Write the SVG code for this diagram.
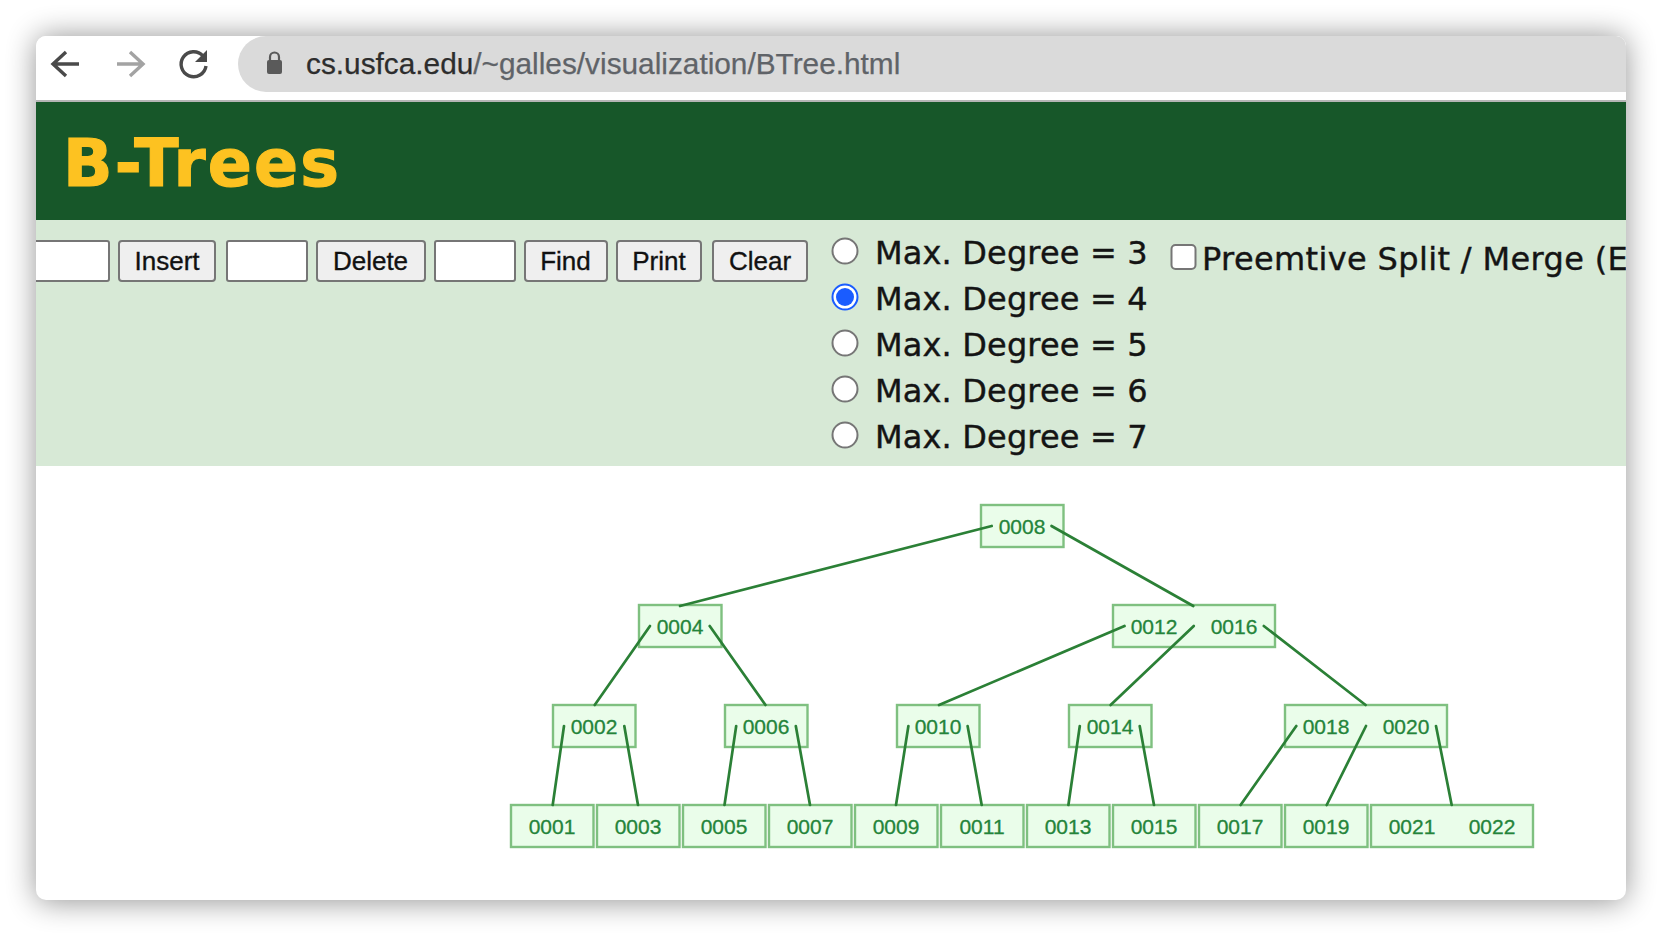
<svg xmlns="http://www.w3.org/2000/svg" width="1662" height="936" viewBox="0 0 1662 936">
<style>
.sans{font-family:"Liberation Sans",Arial,sans-serif}
.dv{font-family:"DejaVu Sans",Verdana,sans-serif}
.btn{fill:#efefef;stroke:#767676;stroke-width:2}
.inp{fill:#fff;stroke:#767676;stroke-width:2}
.bt{font-family:"Liberation Sans",Arial,sans-serif;font-size:26px;fill:#111;stroke:#111;stroke-width:.35;text-anchor:middle}
.rad{fill:#fff;stroke:#767676;stroke-width:2}
.rl{font-family:"DejaVu Sans",Verdana,sans-serif;font-size:32px;fill:#141414;stroke:#141414;stroke-width:.4;letter-spacing:.15px}
.box{fill:#eafdea;stroke:#7fc080;stroke-width:2.400}
.key{font-family:"Liberation Sans",Arial,sans-serif;font-size:21px;fill:#24843a;stroke:#24843a;stroke-width:.3;text-anchor:middle}
.edge line{stroke:#2b8036;stroke-width:2.700;stroke-linecap:round}
</style>
<defs>
<filter id="sh" x="-10%" y="-15%" width="120%" height="130%"><feGaussianBlur stdDeviation="15"/></filter>
<filter id="soft" x="0" y="0" width="100%" height="100%" filterUnits="userSpaceOnUse" primitiveUnits="userSpaceOnUse"><feGaussianBlur stdDeviation=".5"/></filter>
<clipPath id="card"><rect x="36" y="36" width="1590" height="864" rx="10"/></clipPath>
</defs>
<rect width="1662" height="936" fill="#fff"/>
<rect x="36" y="36" width="1590" height="866" rx="10" fill="#000" opacity=".42" filter="url(#sh)"/>
<rect x="36" y="36" width="1590" height="864" rx="10" fill="#fff"/>
<g id="window" clip-path="url(#card)">
<rect x="36" y="36" width="1590" height="64" fill="#fff"/>
<rect x="36" y="100" width="1590" height="2" fill="#b5b5b5"/>
<path d="M238 64a28 28 0 0 1 28-28H1640V92H266a28 28 0 0 1-28-28z" fill="#dadada"/>
<g fill="none" stroke-width="3.400">
<path d="M79 64H54M66 52L53 64L66 76" stroke="#4a4a4a"/>
<path d="M117 64H142M130 52L143 64L130 76" stroke="#a3a3a3"/>
<path d="M203 56A12.500 12.500 0 1 0 206 66" stroke="#4a4a4a"/>
</g>
<path d="M207 50V62H195z" fill="#4a4a4a"/>
<rect x="267" y="60" width="15" height="14" rx="2" fill="#5a5a5a"/>
<path d="M270 61V57a4.500 4.500 0 0 1 9 0V61" fill="none" stroke="#5a5a5a" stroke-width="2.200"/>
<text class="sans" x="306" y="74" font-size="29.800" fill="#5f6368" stroke="#5f6368" stroke-width=".25"><tspan fill="#2d2d2d" stroke="#2d2d2d">cs.usfca.edu</tspan>/~galles/visualization/BTree.html</text>
<rect x="36" y="102" width="1590" height="118" fill="#175729"/>
<text class="dv" x="63" y="186" font-size="65" font-weight="700" fill="#fdc221" stroke="#fdc221" stroke-width="1.200" textLength="276">B-Trees</text>
<rect x="36" y="220" width="1590" height="246" fill="#d7e9d6"/>
<rect class="inp" x="20" y="241" width="89" height="40" rx="2"/>
<rect class="btn" x="119" y="241" width="96" height="40" rx="3"/>
<text class="bt" x="167" y="270">Insert</text>
<rect class="inp" x="227" y="241" width="80" height="40" rx="2"/>
<rect class="btn" x="317" y="241" width="108" height="40" rx="3"/>
<text class="bt" x="370.500" y="270">Delete</text>
<rect class="inp" x="435" y="241" width="80" height="40" rx="2"/>
<rect class="btn" x="525" y="241" width="82" height="40" rx="3"/>
<text class="bt" x="565.500" y="270">Find</text>
<rect class="btn" x="617" y="241" width="84" height="40" rx="3"/>
<text class="bt" x="659" y="270">Print</text>
<rect class="btn" x="713" y="241" width="94" height="40" rx="3"/>
<text class="bt" x="760" y="270">Clear</text>
<circle class="rad" cx="845" cy="251" r="12.500"/>
<circle cx="845" cy="297" r="12.500" fill="#fff" stroke="#1a5cff" stroke-width="2"/>
<circle cx="845" cy="297" r="9" fill="#1a5cff"/>
<circle class="rad" cx="845" cy="343" r="12.500"/>
<circle class="rad" cx="845" cy="389" r="12.500"/>
<circle class="rad" cx="845" cy="435" r="12.500"/>
<text class="rl" x="875" y="264">Max. Degree = 3</text>
<text class="rl" x="875" y="310">Max. Degree = 4</text>
<text class="rl" x="875" y="356">Max. Degree = 5</text>
<text class="rl" x="875" y="402">Max. Degree = 6</text>
<text class="rl" x="875" y="448">Max. Degree = 7</text>
<rect class="rad" x="1171.500" y="245" width="24" height="24" rx="4"/>
<text class="rl" x="1202" y="270" style="letter-spacing:.36px">Preemtive Split / Merge (E</text>
</g>
<g id="n0008"><rect class="box" x="981" y="505" width="82.500" height="42"/><text class="key" x="1022" y="534">0008</text></g>
<g id="n0004"><rect class="box" x="639" y="605" width="82.500" height="42"/><text class="key" x="680" y="634">0004</text></g>
<g id="n0012"><rect class="box" x="1113" y="605" width="162" height="42"/><text class="key" x="1154" y="634">0012</text><text class="key" x="1234" y="634">0016</text></g>
<g id="n0002"><rect class="box" x="553" y="705" width="82.500" height="42"/><text class="key" x="594" y="734">0002</text></g>
<g id="n0006"><rect class="box" x="725" y="705" width="82.500" height="42"/><text class="key" x="766" y="734">0006</text></g>
<g id="n0010"><rect class="box" x="897" y="705" width="82.500" height="42"/><text class="key" x="938" y="734">0010</text></g>
<g id="n0014"><rect class="box" x="1069" y="705" width="82.500" height="42"/><text class="key" x="1110" y="734">0014</text></g>
<g id="n0018"><rect class="box" x="1285" y="705" width="162" height="42"/><text class="key" x="1326" y="734">0018</text><text class="key" x="1406" y="734">0020</text></g>
<g id="n0001"><rect class="box" x="511" y="805" width="82.500" height="42"/><text class="key" x="552" y="834">0001</text></g>
<g id="n0003"><rect class="box" x="597" y="805" width="82.500" height="42"/><text class="key" x="638" y="834">0003</text></g>
<g id="n0005"><rect class="box" x="683" y="805" width="82.500" height="42"/><text class="key" x="724" y="834">0005</text></g>
<g id="n0007"><rect class="box" x="769" y="805" width="82.500" height="42"/><text class="key" x="810" y="834">0007</text></g>
<g id="n0009"><rect class="box" x="855" y="805" width="82.500" height="42"/><text class="key" x="896" y="834">0009</text></g>
<g id="n0011"><rect class="box" x="941" y="805" width="82.500" height="42"/><text class="key" x="982" y="834">0011</text></g>
<g id="n0013"><rect class="box" x="1027" y="805" width="82.500" height="42"/><text class="key" x="1068" y="834">0013</text></g>
<g id="n0015"><rect class="box" x="1113" y="805" width="82.500" height="42"/><text class="key" x="1154" y="834">0015</text></g>
<g id="n0017"><rect class="box" x="1199" y="805" width="82.500" height="42"/><text class="key" x="1240" y="834">0017</text></g>
<g id="n0019"><rect class="box" x="1285" y="805" width="82.500" height="42"/><text class="key" x="1326" y="834">0019</text></g>
<g id="n0021"><rect class="box" x="1371" y="805" width="162" height="42"/><text class="key" x="1412" y="834">0021</text><text class="key" x="1492" y="834">0022</text></g>
<g id="connectors" class="edge">
<line x1="991.700" y1="526" x2="680" y2="606"/>
<line x1="1051.500" y1="526" x2="1193.300" y2="606"/>
<line x1="650" y1="626" x2="594.700" y2="705"/>
<line x1="709.700" y1="626" x2="765.500" y2="705"/>
<line x1="1124.500" y1="626" x2="939" y2="705"/>
<line x1="1193.800" y1="626" x2="1110.600" y2="705"/>
<line x1="1263.800" y1="626" x2="1365.600" y2="705"/>
<line x1="564" y1="726" x2="552.700" y2="805"/>
<line x1="624.300" y1="726" x2="638" y2="805"/>
<line x1="736.200" y1="726" x2="724.500" y2="805"/>
<line x1="795.800" y1="726" x2="810" y2="805"/>
<line x1="908.400" y1="726" x2="896" y2="805"/>
<line x1="967.600" y1="726" x2="981.700" y2="805"/>
<line x1="1079.800" y1="726" x2="1068.400" y2="805"/>
<line x1="1139.700" y1="726" x2="1154" y2="805"/>
<line x1="1296.300" y1="726" x2="1240.600" y2="805"/>
<line x1="1366" y1="726" x2="1326.700" y2="805"/>
<line x1="1436" y1="726" x2="1451.700" y2="805"/>
</g>
</svg>
